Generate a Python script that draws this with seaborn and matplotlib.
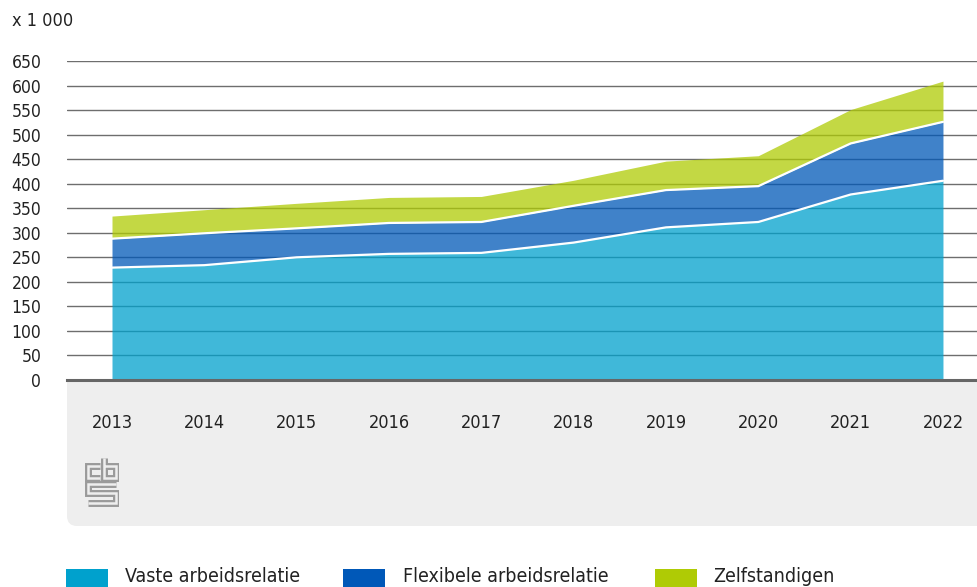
import numpy as np
import pandas as pd
import matplotlib
matplotlib.use("Agg")
import matplotlib.pyplot as plt
from matplotlib.patches import FancyBboxPatch, Rectangle
from matplotlib.transforms import IdentityTransform
from matplotlib import font_manager
import seaborn as sns

# ---- data (x 1 000) ----
years = [2013, 2014, 2015, 2016, 2017, 2018, 2019, 2020, 2021, 2022]
vaste = [229, 234, 250, 257, 259, 280, 311, 322, 378, 406]
flexibel = [59, 65, 59, 63, 63, 75, 76, 73, 104, 120]
zelfstandig = [46, 48, 51, 52, 52, 52, 59, 62, 69, 83]
series_names = ["Vaste arbeidsrelatie", "Flexibele arbeidsrelatie", "Zelfstandigen"]
colors = ["#00a1cd", "#0058b8", "#afcb05"]
yticks = [0, 50, 100, 150, 200, 250, 300, 350, 400, 450, 500, 550, 600, 650]
unit_label = "x 1 000"

sns.set_theme(style="white")
plt.rcParams["font.family"] = ["DejaVu Sans"]
plt.rcParams["font.stretch"] = "condensed"

W, H = 977, 587
fig = plt.figure(figsize=(W / 100, H / 100), dpi=100)

left, right, top, bottom = 67, 977, 61, 380
ax = fig.add_axes([left / W, 1 - bottom / H, (right - left) / W, (bottom - top) / H])
ax.set_facecolor("white")

df = pd.DataFrame({"jaar": years, "vaste": vaste, "flex": flexibel, "zelf": zelfstandig})
df["c1"] = df["vaste"]
df["c2"] = df["vaste"] + df["flex"]

ax.stackplot(df["jaar"], df["vaste"], df["flex"], df["zelf"],
             colors=colors, alpha=0.75, linewidth=0, zorder=2)
sns.lineplot(data=df, x="jaar", y="c1", color="white", linewidth=1.6, ax=ax, zorder=3)
sns.lineplot(data=df, x="jaar", y="c2", color="white", linewidth=1.6, ax=ax, zorder=3)

ax.set_xlim(2013 - 45 / 92.33, 2013 + (977 - 112) / 92.33)
ax.set_ylim(0, 650)
ax.set_yticks(yticks)
ax.set_yticklabels([str(v) for v in yticks])
ax.set_xticks(years)
ax.set_xticklabels([str(y) for y in years])
ax.set_xlabel("")
ax.set_ylabel("")

ax.set_axisbelow(True)
ax.yaxis.grid(True, color="#6e6e6e", linewidth=1.0, zorder=1)
ax.xaxis.grid(False)
for s in ["left", "right", "top"]:
    ax.spines[s].set_visible(False)
ax.spines["bottom"].set_color("#666666")
ax.spines["bottom"].set_linewidth(2.2)
ax.spines["bottom"].set_zorder(5)

ax.tick_params(axis="y", length=0, pad=18.5, labelsize=12.5, labelcolor="#222222")
ax.tick_params(axis="x", direction="out", length=8.5, width=1.1, color="#c8c8c8",
               pad=16, labelsize=13, labelcolor="#222222")
for lab in ax.get_yticklabels():
    lab.set_horizontalalignment("right")

band = FancyBboxPatch((67, H - 526), 960, 170,
                      boxstyle="round,pad=0,rounding_size=10",
                      transform=IdentityTransform(), facecolor="#eeeeee",
                      edgecolor="none", zorder=-1)
fig.add_artist(band)

fig.text(12 / W, 1 - 12 / H, unit_label, ha="left", va="top", fontsize=13, color="#222222")

# cbs logo (simple outline drawing)
lax = fig.add_axes([85 / W, 1 - 507 / H, 34 / W, 51 / H])
lax.set_xlim(0, 34)
lax.set_ylim(51, 0)
lax.axis("off")
lax.patch.set_alpha(0)
paths = [
    ([15, 3, 3, 15], [10, 10, 22, 22]),
    ([19, 19, 31, 31, 19], [2, 22, 22, 10, 10]),
    ([31, 3, 3, 31, 31, 3], [28, 28, 37, 37, 47, 47]),
]
for xs, ys in paths:
    lax.plot(xs, ys, color="#9a9a9a", linewidth=5.0, solid_joinstyle="miter", solid_capstyle="butt")
for xs, ys in paths:
    lax.plot(xs, ys, color="#eeeeee", linewidth=1.8, solid_joinstyle="miter", solid_capstyle="butt")

leg_x_patch = [66, 343, 655]
leg_x_text = [125, 403, 713]
for name, col, xp, xt in zip(series_names, colors, leg_x_patch, leg_x_text):
    fig.add_artist(Rectangle((xp, 0), 42, 18, transform=IdentityTransform(),
                             facecolor=col, edgecolor="none"))
    fig.text(xt / W, 1 - 577 / H, name, ha="left", va="center", fontsize=14, color="#222222")

fig.savefig("out.png", dpi=100)
